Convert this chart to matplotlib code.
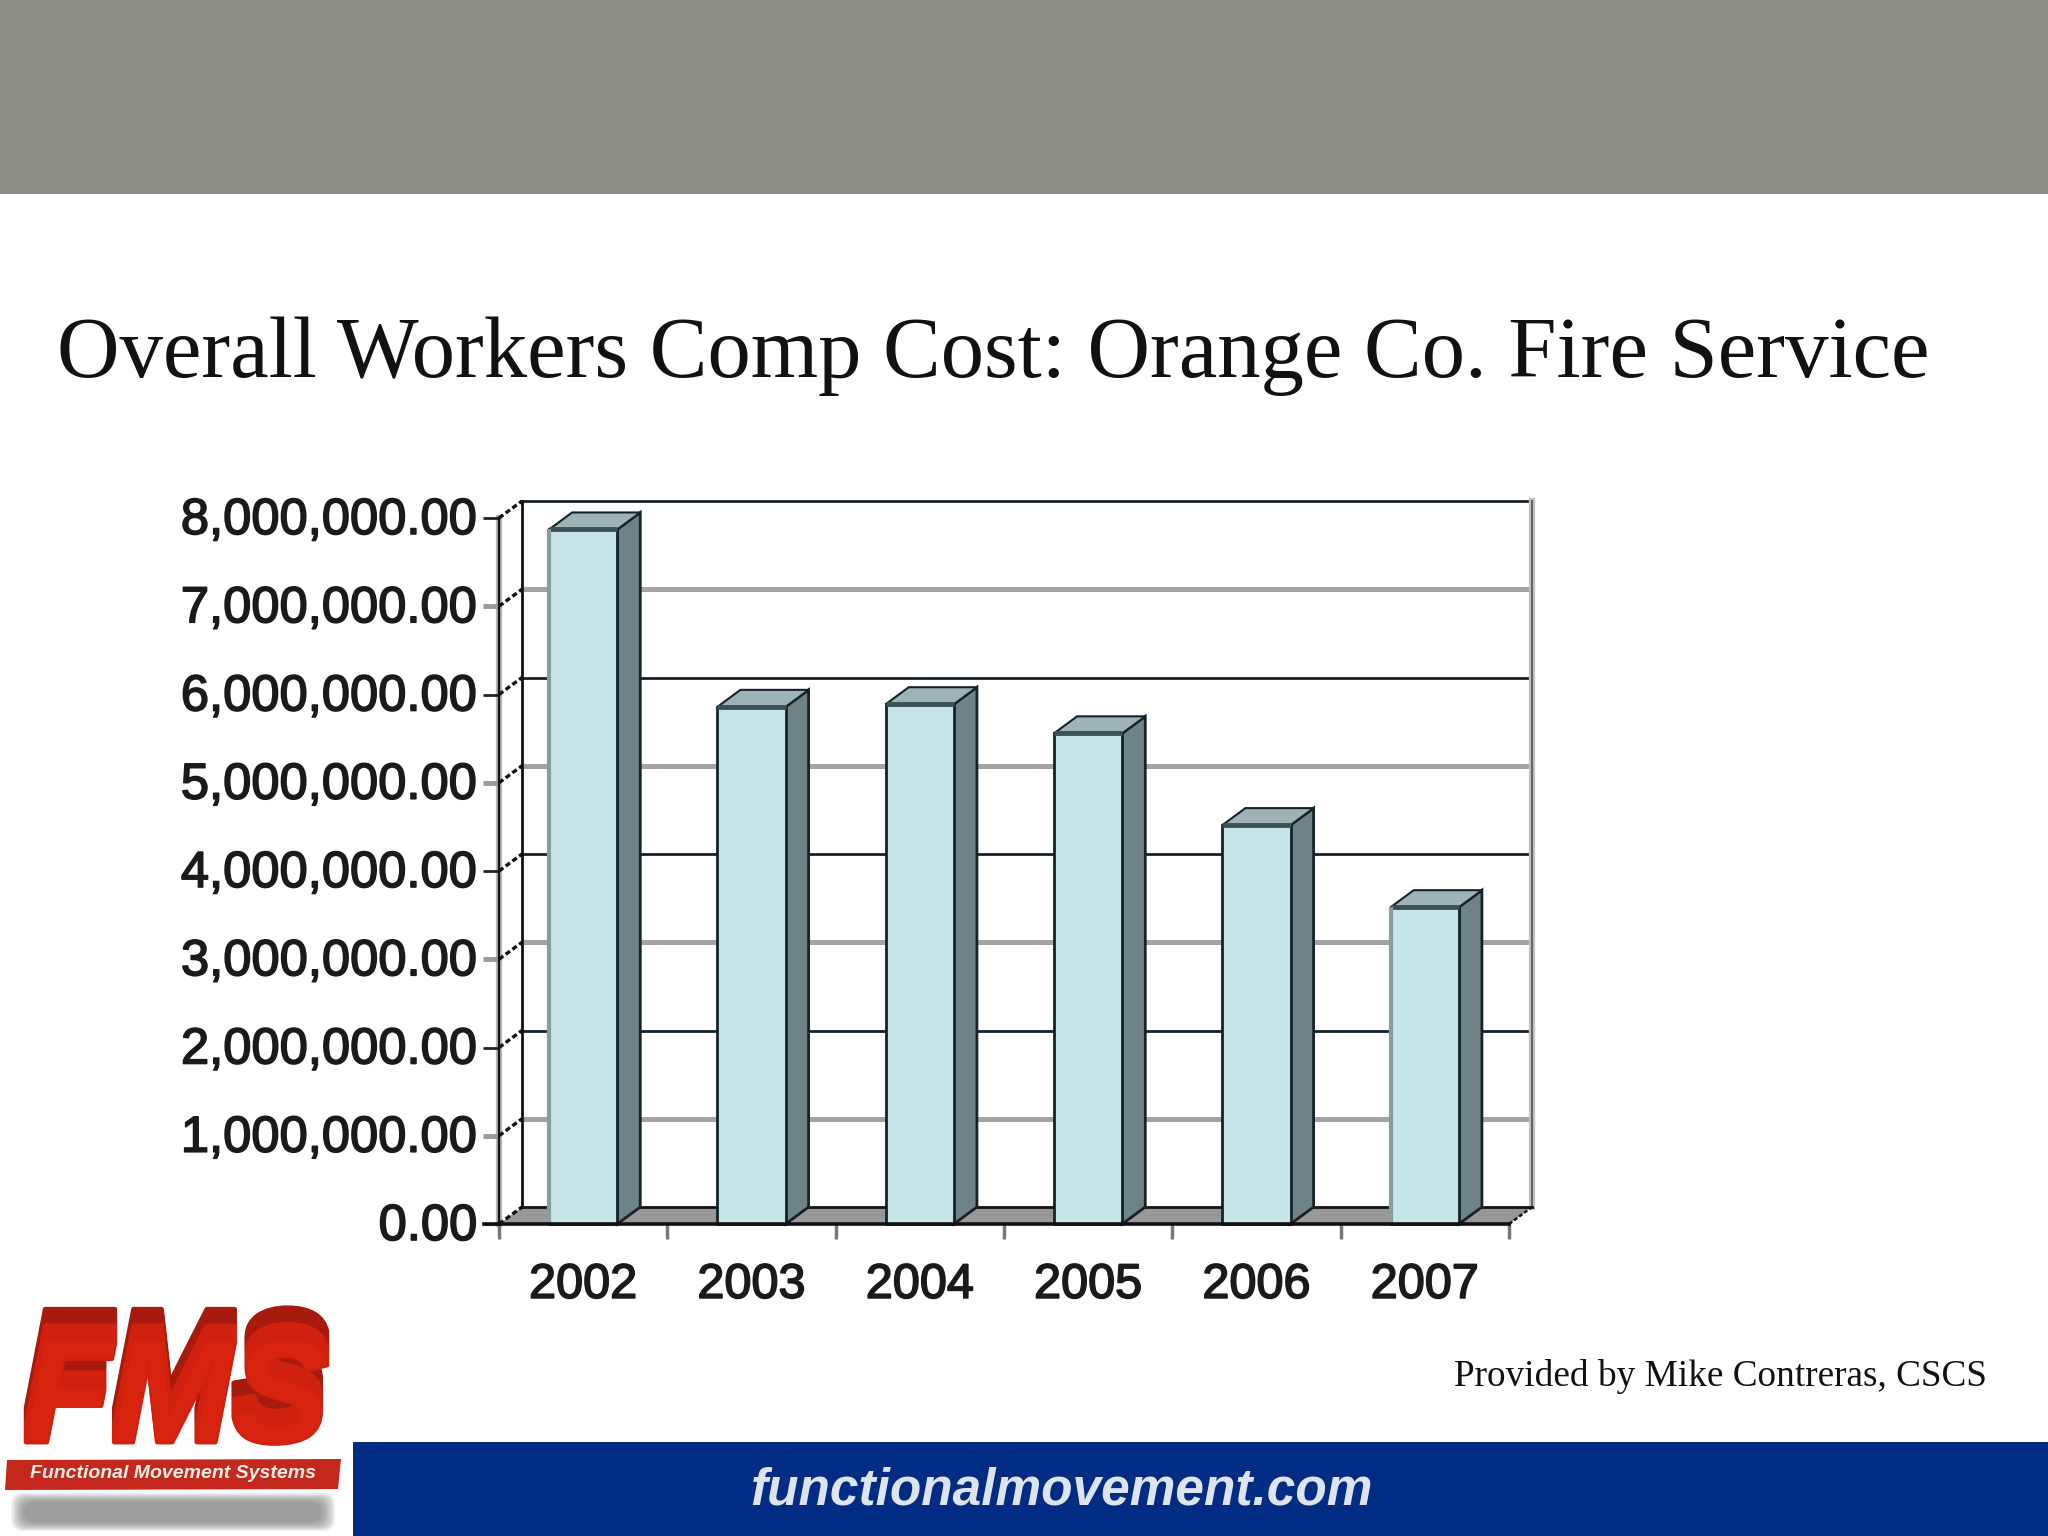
import matplotlib
matplotlib.use('Agg')
import matplotlib.pyplot as plt
import matplotlib.patheffects as pe
from matplotlib.patches import Rectangle, Polygon, FancyBboxPatch
from matplotlib.transforms import ScaledTranslation

# chart data
years = ['2002', '2003', '2004', '2005', '2006', '2007']
costs = [7870000, 5860000, 5890000, 5560000, 4520000, 3590000]
y_ticks = [0, 1000000, 2000000, 3000000, 4000000, 5000000, 6000000, 7000000, 8000000]

# colours
BAND = '#8b8e84'
NAVY = '#002c83'
FRONT = '#c6e5e8'
SIDE = '#6f8387'
TOP = '#9db3b5'
INK = '#15222a'
GREY = '#9a9a9a'

fig = plt.figure(figsize=(20.48, 15.36), dpi=100, facecolor='white')

# slide layer, in pixels
bg = fig.add_axes([0, 0, 1, 1])
bg.set_xlim(0, 2048)
bg.set_ylim(1536, 0)
bg.axis('off')

bg.add_patch(Rectangle((0, 0), 2048, 194, color=BAND, lw=0))
bg.add_patch(Rectangle((353, 1442), 1695, 94, color=NAVY, lw=0))

bg.text(57, 377, 'Overall Workers Comp Cost: Orange Co. Fire Service',
        family='Liberation Serif', fontsize=62.4, color='#111111', va='baseline')
bg.text(1987, 1386, 'Provided by Mike Contreras, CSCS',
        family='Liberation Serif', fontsize=26.8, color='#111111', ha='right', va='baseline')
bg.text(1061, 1491, 'functionalmovement.com', family='Liberation Sans',
        weight='bold', style='italic', fontsize=37, color='#dde4f0', ha='center', va='center')

# logo
for i in range(10):
    bg.add_patch(FancyBboxPatch((12 + i * 1.5, 1494 + i), 322 - i * 3, 36 - i * 2,
                                boxstyle='round,pad=1,rounding_size=12',
                                color='#777777', alpha=0.11, lw=0))
# the letters are pulled upward with offset strokes to get the tall logo shape
logo_fx = [pe.Stroke(offset=(0, k), linewidth=3.5, foreground='#a81a0e') for k in range(24, 12, -2)]
logo_fx += [pe.Stroke(offset=(0, k), linewidth=3.5, foreground='#d0210f') for k in range(12, -1, -2)]
logo_fx += [pe.Normal()]
bg.text(176, 1442, 'FMS', family='Liberation Sans', weight='bold', style='italic',
        fontsize=104, color='#d8240f', ha='center', va='baseline', path_effects=logo_fx)
bg.add_patch(Polygon([(7, 1460), (341, 1459), (338, 1489), (5, 1490)], color='#c4281c', lw=0))
bg.text(173, 1474, 'Functional Movement Systems', family='Liberation Sans', weight='bold',
        style='italic', fontsize=14, color='#f4efe6', ha='center', va='center')

# chart axes cover the front plane of the 3d box
ax = fig.add_axes([499 / 2048, (1536 - 1224) / 1536, 1010 / 2048, 706 / 1536])
ax.patch.set_alpha(0)
ax.set_xlim(-0.5, 5.5)
ax.set_ylim(0, 8000000)
for s in ax.spines.values():
    s.set_visible(False)

# depth of the box in data units
dx = 23 / (1010 / 6)
dy = 17 / (706 / 8000000)
left, right = -0.5, 5.5

# floor
ax.add_patch(Polygon([(left, 0), (left + dx, dy), (right + dx, dy), (right, 0)],
                     color='#989898', lw=0, zorder=1, clip_on=False))

# grid on the back wall, alternating grey and dark
for i, v in enumerate(y_ticks):
    col, lw = (INK, 2.0) if i % 2 == 0 else ('#a3a3a3', 3.6)
    if v > 0:
        ax.plot([left + dx, right + dx], [v + dy, v + dy], color=col, lw=lw, zorder=1,
                clip_on=False, solid_capstyle='butt')
    ax.plot([left, left + dx], [v, v + dy], color='#111111', lw=2.4, ls=(0, (1.6, 0.9)),
            zorder=2, clip_on=False)

# walls and frame
ax.plot([left + dx, left + dx], [dy, 8000000 + dy], color='#111111', lw=2, zorder=2, clip_on=False)
ax.plot([left, left], [0, 8000000], color='#b5b5b5', lw=4.5, zorder=1, clip_on=False)
ax.plot([left, left], [0, 8000000], color='#111111', lw=1.6, zorder=2, clip_on=False)
ax.plot([right + dx, right + dx], [dy, 8000000 + dy], color='#c4c4c4', lw=4.5, zorder=1, clip_on=False)
ax.plot([right + dx, right + dx], [dy, 8000000 + dy], color='#666666', lw=1.5, zorder=2, clip_on=False)
ax.plot([left + dx, right + dx], [dy, dy], color='#111111', lw=2, zorder=2, clip_on=False)
ax.plot([right, right + dx], [0, dy], color='#111111', lw=1.8, ls=(0, (1.6, 0.9)), zorder=2, clip_on=False)

# 3d bars
bar_w = 0.405
bars = ax.bar(range(len(years)), costs, width=bar_w, color=FRONT, edgecolor=INK,
              linewidth=2, zorder=4, clip_on=False)
for n, (b, c) in enumerate(zip(bars, costs)):
    x0 = b.get_x()
    x1 = x0 + bar_w
    ax.add_patch(Polygon([(x1, 0), (x1 + dx, dy), (x1 + dx, c + dy), (x1, c)],
                         facecolor=SIDE, edgecolor=INK, lw=2, zorder=3, clip_on=False))
    ax.add_patch(Polygon([(x0, c), (x0 + dx, c + dy), (x1 + dx, c + dy), (x1, c)],
                         facecolor=TOP, edgecolor=INK, lw=1.5, zorder=3, clip_on=False))
    # heavier top edge of the front face
    ax.plot([x0, x1], [c, c], color='#3f5155', lw=3.5, zorder=5, clip_on=False, solid_capstyle='butt')
    # first and last bars have a pale left edge in the original
    if n in (0, 5):
        ax.plot([x0, x0], [0, c], color='#8a9c9c', lw=3, zorder=5, clip_on=False, solid_capstyle='butt')

# front base line over the floor
ax.plot([left - 0.09, right], [0, 0], color='#111111', lw=2.6, zorder=5, clip_on=False)

# ticks and labels
ax.set_yticks(y_ticks)
ax.set_yticklabels([f'{v:,.2f}' for v in y_ticks], family='Liberation Sans', fontsize=36.5,
                   color='#1a1a1a', path_effects=[pe.withStroke(linewidth=1.2, foreground='#1a1a1a')])
ax.tick_params(axis='y', length=11.5, pad=4)
up = ScaledTranslation(0, 3 / 100, fig.dpi_scale_trans)
for i, t in enumerate(ax.yaxis.get_major_ticks()):
    t.tick1line.set_markeredgecolor('#222222' if i % 2 == 0 else '#999999')
    t.tick1line.set_markeredgewidth(2.0 if i % 2 == 0 else 3.5)
    t.label1.set_transform(t.label1.get_transform() + up)

ax.set_xticks(range(len(years)))
ax.set_xticklabels(years, family='Liberation Sans', fontsize=35, color='#1a1a1a',
                   path_effects=[pe.withStroke(linewidth=1.2, foreground='#1a1a1a')])
ax.tick_params(axis='x', length=0, pad=28)
# category boundary ticks
ax.set_xticks([i - 0.5 for i in range(7)], minor=True)
ax.tick_params(axis='x', which='minor', length=11, width=2.5, color='#777777')

fig.savefig('out.png', dpi=100)
